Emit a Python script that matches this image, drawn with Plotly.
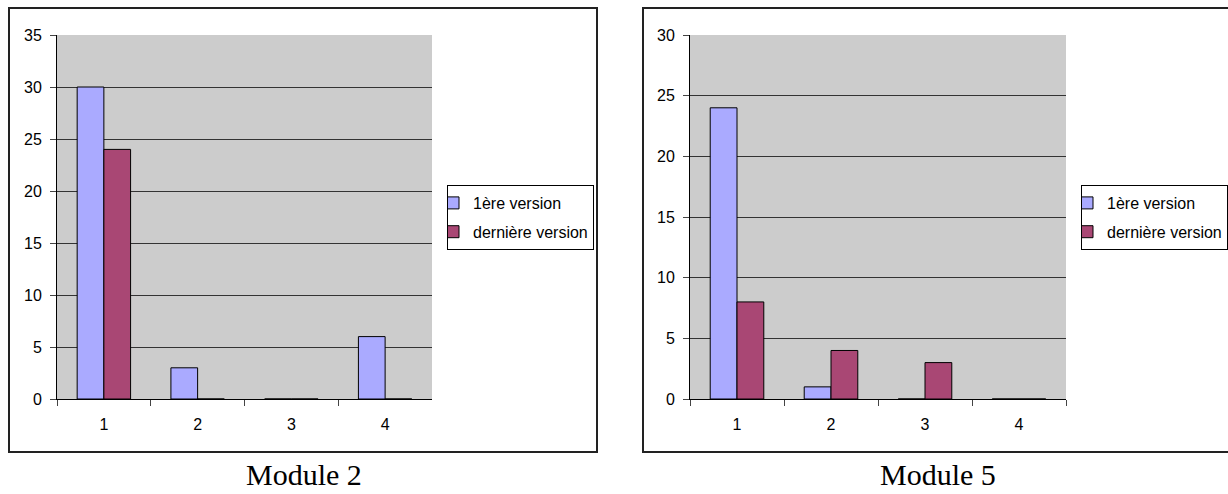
import plotly.graph_objects as go

categories = ["1", "2", "3", "4"]
series_names = ["1ère version", "dernière version"]

module2_first = [30, 3, 0, 6]
module2_last = [24, 0, 0, 0]
module5_first = [24, 1, 0, 0]
module5_last = [8, 4, 3, 0]

titles = ["Module 2", "Module 5"]

W, H = 1228, 494
BLUE = "#AAAAFF"
RED = "#A94774"


def px(x):
    return x / W


def py(y):
    return 1 - y / H


fig = go.Figure()

for vals, name, color, leg, xa, ya, grp in [
    (module2_first, series_names[0], BLUE, "legend", "x", "y", "a"),
    (module2_last, series_names[1], RED, "legend", "x", "y", "b"),
    (module5_first, series_names[0], BLUE, "legend2", "x2", "y2", "c"),
    (module5_last, series_names[1], RED, "legend2", "x2", "y2", "d"),
]:
    fig.add_trace(go.Bar(
        x=categories, y=vals, name=name,
        marker=dict(color=color, line=dict(color="#000000", width=1)),
        xaxis=xa, yaxis=ya, legend=leg, legendgroup=grp, showlegend=True,
    ))

axis_font = dict(family="Liberation Sans, Arial, sans-serif", size=16, color="#000000")

common_x = dict(
    type="category", tickson="boundaries", ticks="outside", ticklen=6,
    tickcolor="#444444", tickwidth=1, showline=True, linecolor="#000000",
    linewidth=1, showgrid=False, tickfont=axis_font, ticklabelstandoff=11,
    range=[-0.5, 3.5], fixedrange=True, automargin=False,
)
common_y = dict(
    ticks="outside", ticklen=6, tickcolor="#444444", tickwidth=1,
    showline=True, linecolor="#000000", linewidth=1, showgrid=True,
    gridcolor="#333333", gridwidth=1, tickfont=axis_font, dtick=5,
    ticklabelstandoff=5, zeroline=False, fixedrange=True, automargin=False,
)

legend_common = dict(
    xanchor="left", yanchor="top",
    bordercolor="#000000", borderwidth=1, bgcolor="#FFFFFF",
    font=dict(family="Liberation Sans, Arial, sans-serif", size=16, color="#000000"),
    tracegroupgap=5, traceorder="grouped", indentation=-15, itemwidth=30,
)

title_font = dict(family="Liberation Serif, Times New Roman, serif", size=30, color="#000000")

fig.update_layout(
    width=W, height=H,
    margin=dict(l=0, r=0, t=0, b=0, pad=0, autoexpand=False),
    paper_bgcolor="#FFFFFF",
    plot_bgcolor="#CCCCCC",
    barmode="group", bargap=0.43, bargroupgap=0,
    xaxis=dict(domain=[px(57), px(432)], anchor="y", **common_x),
    yaxis=dict(domain=[py(399), py(35)], anchor="x", range=[0, 35], **common_y),
    xaxis2=dict(domain=[px(690), px(1066)], anchor="y2", **common_x),
    yaxis2=dict(domain=[py(399), py(35)], anchor="x2", range=[0, 30], **common_y),
    legend=dict(x=px(447), y=py(185), **legend_common),
    legend2=dict(x=px(1081), y=py(185), **legend_common),
    shapes=[
        dict(type="rect", xref="paper", yref="paper",
             x0=px(9), x1=px(597), y0=py(452), y1=py(8),
             line=dict(color="#222222", width=2), fillcolor="rgba(0,0,0,0)", layer="below"),
        dict(type="rect", xref="paper", yref="paper",
             x0=px(643), x1=px(1232), y0=py(452), y1=py(8),
             line=dict(color="#222222", width=2), fillcolor="rgba(0,0,0,0)", layer="below"),
    ],
    annotations=[
        dict(text=titles[0], xref="paper", yref="paper", x=px(304), y=py(474),
             xanchor="center", yanchor="middle", showarrow=False, font=title_font),
        dict(text=titles[1], xref="paper", yref="paper", x=px(938), y=py(474),
             xanchor="center", yanchor="middle", showarrow=False, font=title_font),
    ],
)

fig.write_html(
    "out.html",
    config={"displayModeBar": False},
    post_script="document.body.style.margin='0';document.body.style.overflow='hidden';",
)
